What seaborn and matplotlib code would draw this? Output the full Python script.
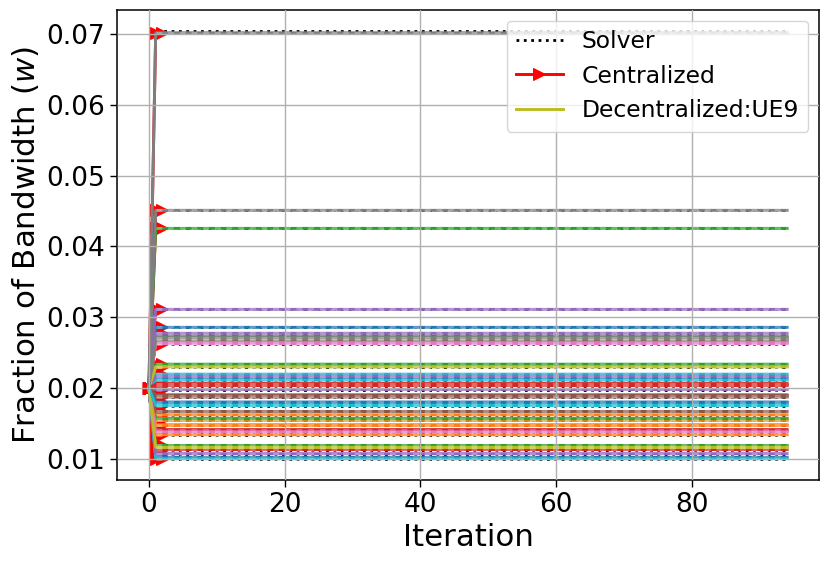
import numpy as np
import pandas as pd
import matplotlib
matplotlib.use("Agg")
import matplotlib.pyplot as plt
import seaborn as sns

# ---------------- data ----------------
n_iter = 95                 # iterations 0..94
init_share = 0.02           # every UE starts at 1/50
# converged bandwidth fraction per UE (UE1..UE50), colour = tab10 cycle
final_share = [
    0.02856, 0.01620, 0.04255, 0.02061, 0.03110, 0.02663, 0.02625, 0.07020, 0.02297, 0.02194,
    0.02137, 0.01479, 0.02734, 0.02033, 0.02772, 0.01902, 0.01385, 0.04510, 0.01570, 0.02109,
    0.01794, 0.01338, 0.02335, 0.01127, 0.02166, 0.01870, 0.01405, 0.02700, 0.01159, 0.01751,
    0.01018, 0.01540, 0.01564, 0.01410, 0.01977, 0.01667, 0.02640, 0.02690, 0.02300, 0.01000,
    0.01800, 0.01470, 0.01187, 0.02050, 0.01070, 0.01890, 0.01380, 0.02710, 0.01160, 0.01755,
]
solver_share = [v if v < 0.07 else 0.07040 for v in final_share]
central_iters = [0, 1, 2]
legend_ue = 9

# ---------------- figure ----------------
plt.rcParams['font.family'] = ['DejaVu Sans']
fig = plt.figure(figsize=(8.3, 5.68), dpi=100)
ax = fig.add_axes([117 / 830, 88 / 568, (819 - 117) / 830, 470 / 568])
pal = sns.color_palette("tab10")
iters = np.arange(n_iter)

# solver (black dotted)
for i, v in enumerate(solver_share):
    df = pd.DataFrame({"it": [0, n_iter - 1], "w": [v, v]})
    sns.lineplot(data=df, x="it", y="w", ax=ax, color="black", linestyle=":",
                 linewidth=2.0, label="Solver" if i == 0 else None, legend=False)

# centralized (red, right triangles, converges in 2 iterations)
for i, v in enumerate(final_share):
    df = pd.DataFrame({"it": central_iters, "w": [init_share, v, v]})
    sns.lineplot(data=df, x="it", y="w", ax=ax, color="red", linewidth=2.1,
                 marker=">", markersize=8.5, markeredgecolor="red",
                 label="Centralized" if i == 0 else None, legend=False)

# decentralized (per-UE colours)
for i, v in enumerate(final_share):
    c = pal[i % 10]
    w = np.r_[init_share, np.full(n_iter - 1, v)]
    df = pd.DataFrame({"it": iters, "w": w})
    sns.lineplot(data=df, x="it", y="w", ax=ax, color=c, linewidth=2.1,
                 label=f"Decentralized:UE{legend_ue}" if i + 1 == legend_ue else None,
                 legend=False)
    ax.plot(iters[1:], w[1:], color="white", alpha=0.3, linewidth=2.1,
            linestyle=(0, (2, 2)))

ax.grid(True, color="#b0b0b0", linewidth=1.0)
ax.set_axisbelow(False)
ax.set_xticks([0, 20, 40, 60, 80])
ax.set_yticks([0.01, 0.02, 0.03, 0.04, 0.05, 0.06, 0.07])
ax.set_yticklabels(["0.01", "0.02", "0.03", "0.04", "0.05", "0.06", "0.07"])
ax.tick_params(labelsize=19, length=5, width=1)
ax.set_xlabel("Iteration", fontsize=22.2)
ax.set_ylabel("Fraction of Bandwidth ($w$)", fontsize=22.2)
for s in ax.spines.values():
    s.set_color("black")
    s.set_linewidth(1.1)

ax.legend(loc="upper right", fontsize=16.9, framealpha=0.8, borderaxespad=0.45)
fig.savefig("out.png", dpi=100)
